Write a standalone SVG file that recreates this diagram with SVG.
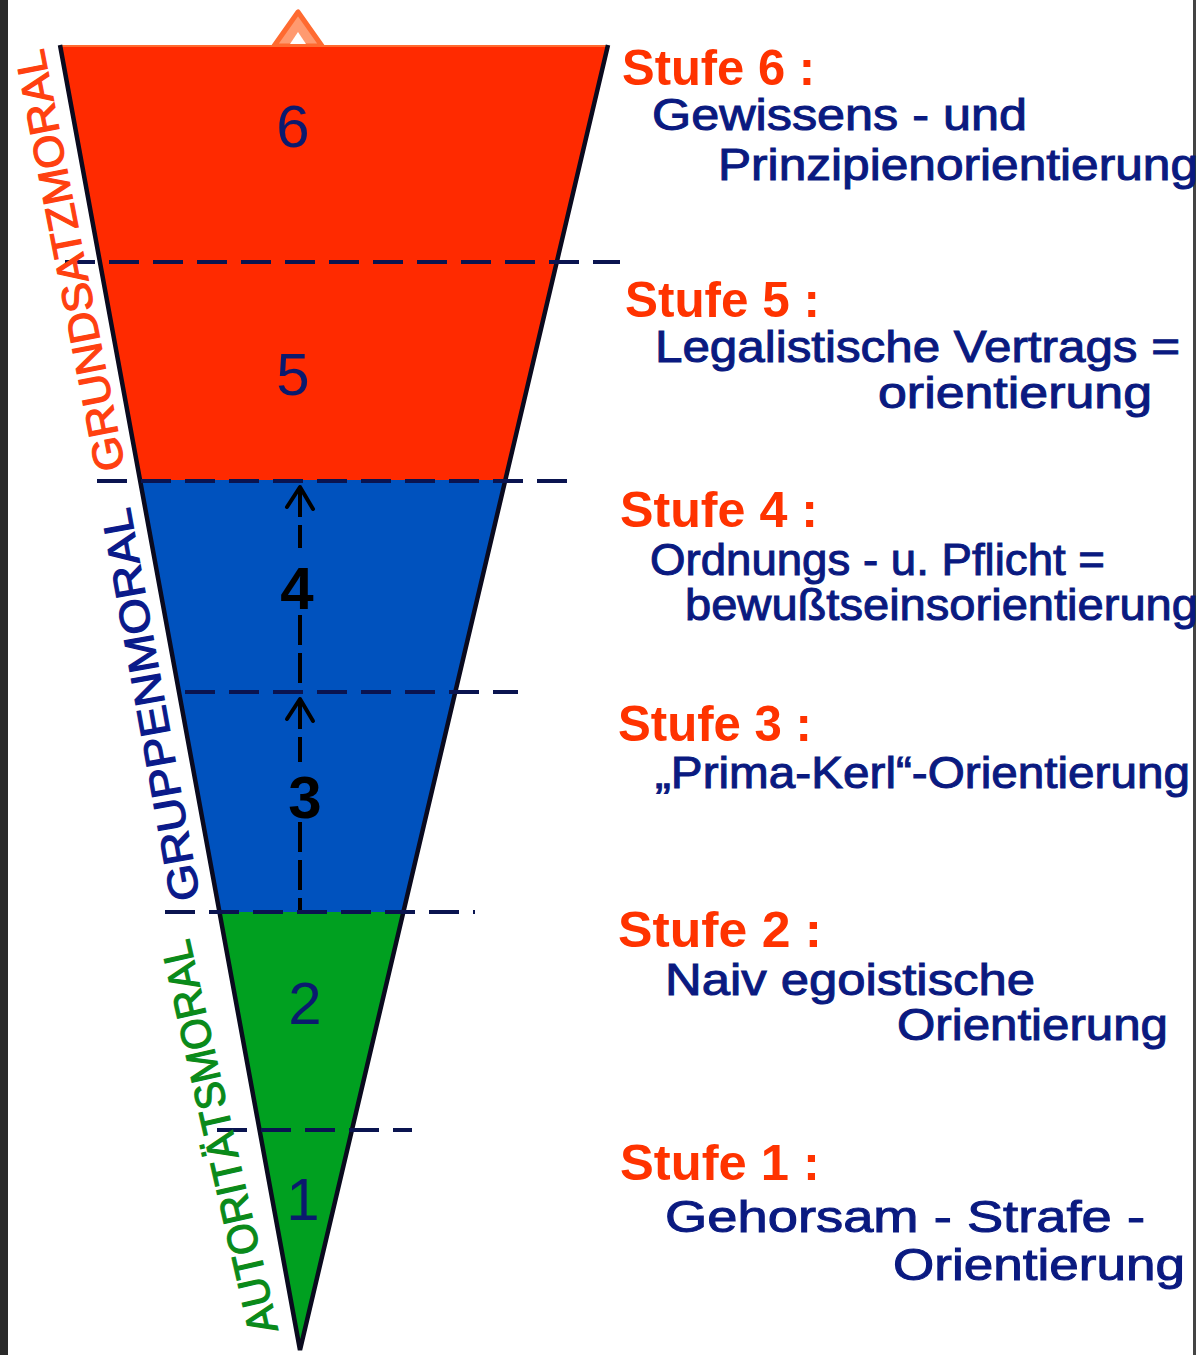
<svg xmlns="http://www.w3.org/2000/svg" width="1198" height="1355" viewBox="0 0 1198 1355">
<style>
.red{fill:#FF2A00}
.blue{fill:#0052BE}
.green{fill:#00A020}
.num{font-family:"Liberation Sans",Arial,sans-serif;font-size:60px;fill:#0A1A6E;text-anchor:middle}
.numk{font-family:"Liberation Sans",Arial,sans-serif;font-size:60px;fill:#000;text-anchor:middle;font-weight:bold}
.stufe{font-family:"Liberation Sans",Arial,sans-serif;font-size:50px;fill:#FF3300;font-weight:bold}
.desc{font-family:"Liberation Sans",Arial,sans-serif;font-size:44px;fill:#0A1A80;stroke:#0A1A80;stroke-width:1}
.side{font-family:"Liberation Sans",Arial,sans-serif;font-size:42px;stroke-width:1.2}
.dash{stroke:#0A1450;stroke-width:4;stroke-dasharray:30 14;fill:none}
.vdash{stroke:#000;stroke-width:4;stroke-dasharray:30 8;fill:none}
.head{stroke:#000;stroke-width:4;fill:none;stroke-linecap:round;stroke-linejoin:round}
</style>
<rect width="1198" height="1355" fill="#fff"/>
<rect x="0" y="0" width="8" height="1355" fill="#2a2a2a"/>
<rect x="1193" y="0" width="3" height="1355" fill="#444"/>

<g id="top-arrow">
<polygon points="298,12 274,46 322,46" fill="#FF9A70" stroke="#FF6A30" stroke-width="5" stroke-linejoin="round"/>
<polygon points="298,32 290,44 306,44" fill="#fff"/>
</g>

<g id="stage6">
<polygon class="red" points="60,45 608,45 556.8,262 99.9,262"/>
<text class="num" x="293" y="147">6</text>
</g>
<g id="stage5">
<polygon class="red" points="99.9,262 556.8,262 505.3,480 140,480"/>
<text class="num" x="293" y="395">5</text>
</g>
<g id="stage4">
<polygon class="blue" points="140,480 505.3,480 455.3,692 179,692"/>
</g>
<g id="stage3">
<polygon class="blue" points="179,692 455.3,692 403.4,912 219.5,912"/>
</g>
<g id="stage2">
<polygon class="green" points="219.5,912 403.4,912 351.9,1130 259.5,1130"/>
<text class="num" x="305" y="1024">2</text>
</g>
<g id="stage1">
<polygon class="green" points="259.5,1130 351.9,1130 300,1350"/>
<text class="num" x="303" y="1220">1</text>
</g>

<g id="outline">
<line x1="62" y1="46" x2="606" y2="46" stroke="#FF6A30" stroke-width="2"/>
<polyline points="60,45 300,1350 608,45" fill="none" stroke="#0A0A1E" stroke-width="4.5" stroke-linejoin="miter"/>
</g>

<g id="connectors">
<line class="dash" x1="65" y1="262" x2="620" y2="262"/>
<line class="dash" x1="97" y1="481" x2="570" y2="481"/>
<line class="dash" x1="185" y1="692" x2="518" y2="692"/>
<line class="dash" x1="165" y1="912" x2="475" y2="912"/>
<line class="dash" x1="217" y1="1130" x2="412" y2="1130"/>
<line class="vdash" x1="300" y1="487" x2="300" y2="548"/>
<line class="vdash" x1="300" y1="615" x2="300" y2="690"/>
<polyline class="head" points="287,507 300,487 313,509"/>
<line class="vdash" x1="300" y1="699" x2="300" y2="762"/>
<line class="vdash" x1="300" y1="822" x2="300" y2="910"/>
<polyline class="head" points="287,719 300,699 313,721"/>
</g>

<g id="level-labels">
<text class="numk" x="297" y="609">4</text>
<text class="numk" x="305" y="818">3</text>
</g>

<g id="side-labels">
<text class="side" fill="#FF4010" stroke="#FF4010" transform="translate(125,468) rotate(-101)" textLength="428" lengthAdjust="spacingAndGlyphs">GRUNDSATZMORAL</text>
<text class="side" fill="#0A1A8A" stroke="#0A1A8A" transform="translate(200,898) rotate(-100.2)" textLength="398" lengthAdjust="spacingAndGlyphs">GRUPPENMORAL</text>
<text class="side" fill="#0A8A1A" stroke="#0A8A1A" transform="translate(278,1330) rotate(-102.8)" textLength="402" lengthAdjust="spacingAndGlyphs">AUTORITÄTSMORAL</text>
</g>

<g id="desc6">
<text class="stufe" x="622" y="85" textLength="193" lengthAdjust="spacingAndGlyphs">Stufe 6 :</text>
<text class="desc" x="652" y="130" textLength="375" lengthAdjust="spacingAndGlyphs">Gewissens - und</text>
<text class="desc" x="718" y="180" textLength="480" lengthAdjust="spacingAndGlyphs">Prinzipienorientierung</text>
</g>
<g id="desc5">
<text class="stufe" x="625" y="317" textLength="195" lengthAdjust="spacingAndGlyphs">Stufe 5 :</text>
<text class="desc" x="655" y="362" textLength="525" lengthAdjust="spacingAndGlyphs">Legalistische Vertrags =</text>
<text class="desc" x="878" y="408" textLength="274" lengthAdjust="spacingAndGlyphs">orientierung</text>
</g>
<g id="desc4">
<text class="stufe" x="620" y="527" textLength="198" lengthAdjust="spacingAndGlyphs">Stufe 4 :</text>
<text class="desc" x="650" y="575" textLength="455" lengthAdjust="spacingAndGlyphs">Ordnungs - u. Pflicht =</text>
<text class="desc" x="685" y="620" textLength="513" lengthAdjust="spacingAndGlyphs">bewußtseinsorientierung</text>
</g>
<g id="desc3">
<text class="stufe" x="618" y="741" textLength="194" lengthAdjust="spacingAndGlyphs">Stufe 3 :</text>
<text class="desc" x="655" y="788" textLength="535" lengthAdjust="spacingAndGlyphs">„Prima-Kerl“-Orientierung</text>
</g>
<g id="desc2">
<text class="stufe" x="618" y="947" textLength="204" lengthAdjust="spacingAndGlyphs">Stufe 2 :</text>
<text class="desc" x="665" y="995" textLength="370" lengthAdjust="spacingAndGlyphs">Naiv egoistische</text>
<text class="desc" x="897" y="1040" textLength="271" lengthAdjust="spacingAndGlyphs">Orientierung</text>
</g>
<g id="desc1">
<text class="stufe" x="620" y="1180" textLength="200" lengthAdjust="spacingAndGlyphs">Stufe 1 :</text>
<text class="desc" x="665" y="1232" textLength="480" lengthAdjust="spacingAndGlyphs">Gehorsam - Strafe -</text>
<text class="desc" x="893" y="1280" textLength="292" lengthAdjust="spacingAndGlyphs">Orientierung</text>
</g>
</svg>
